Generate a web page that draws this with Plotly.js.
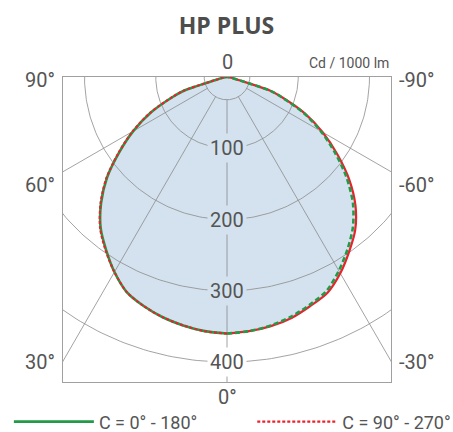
<!DOCTYPE html>
<html>
<head>
<meta charset="utf-8">
<script src="https://cdn.plot.ly/plotly-3.0.1.min.js"></script>
<style>
html,body{margin:0;padding:0;background:#fff;}
#chart{width:453px;height:432px;}
</style>
</head>
<body>
<div id="chart"></div>
<script>
// ---- data (cd / 1000 lm), gamma angle from nadir ----
const GAMMA = [0, 5, 10, 15, 20, 25, 30, 35, 40, 45, 50, 55, 60, 65, 70, 72.5, 75, 80, 85, 90];
// positive side (left of diagram: 0° .. 90°)
const C0_180_POS  = [360, 358, 354, 349, 342, 333, 316, 296, 276, 250, 220, 185, 152, 118, 80, 62, 18, 6, 2, 0];
const C90_270_POS = [360, 358, 354, 349, 342, 333, 316, 297, 277, 251, 221, 186, 153, 119, 81, 63, 18, 6, 2, 0];
// negative side (right of diagram: 0° .. -90°)
const C0_180_NEG  = [360, 358, 354, 348, 340, 331, 314, 295, 275, 250, 219, 185, 152, 118, 80, 62, 18, 6, 2, 0];
const C90_270_NEG = [360, 358, 355, 350, 342, 334, 318, 299, 280, 255, 224, 189, 155, 120, 81, 63, 18, 6, 2, 0];

const RINGS = [32, 100, 200, 300, 400];
const RING_LABELS = [100, 200, 300, 400];
const SPOKES = [-60, -30, 0, 30, 60];
const ANGLE_LABELS_LEFT = ['90°', '60°', '30°'];
const ANGLE_LABELS_RIGHT = ['-90°', '-60°', '-30°'];
const ANGLE_LABEL_Y = [-4, -152, -400];
const SERIES_NAMES = ['C = 0° - 180°', 'C = 90° - 270°'];

// ---- helpers ----
const FONT = 'Roboto, sans-serif';
const TXT = '#555';
const FILL = 'rgb(211,226,238)';
const GRID = '#8c8c8c';
const rad = d => d * Math.PI / 180;
// positive gamma is drawn to the left
function toXY(angles, vals, sign) {
  const x = [], y = [];
  angles.forEach((a, i) => {
    const g = sign * a;
    x.push(-vals[i] * Math.sin(rad(g)));
    y.push(-vals[i] * Math.cos(rad(g)));
  });
  return {x, y};
}
const SPL = {shape: 'spline', smoothing: 0.8};

const traces = [];

// fill (outer envelope)
{
  const negA = GAMMA.slice().reverse(), negV = C90_270_NEG.slice().reverse();
  const r = toXY(negA, negV, -1);
  const l = toXY(GAMMA.slice(1), C90_270_POS.slice(1), 1);
  traces.push({x: r.x.concat(l.x), y: r.y.concat(l.y), mode: 'lines', fill: 'toself',
    fillcolor: FILL, line: Object.assign({width: 0, color: FILL}, SPL), showlegend: false, hoverinfo: 'skip'});
}

// rings
RINGS.forEach(R => {
  const x = [], y = [];
  for (let a = 0; a <= 360; a += 1) { x.push(R * Math.cos(rad(a))); y.push(R * Math.sin(rad(a))); }
  traces.push({x, y, mode: 'lines', line: {color: GRID, width: 0.8}, showlegend: false, hoverinfo: 'skip'});
});
// spokes
SPOKES.forEach(g => {
  const x = [-RINGS[0] * Math.sin(rad(g)), -800 * Math.sin(rad(g))];
  const y = [-RINGS[0] * Math.cos(rad(g)), -800 * Math.cos(rad(g))];
  traces.push({x, y, mode: 'lines', line: {color: GRID, width: 0.8}, showlegend: false, hoverinfo: 'skip'});
});

// negative side: red solid under, green dashed over
{
  const r = toXY(GAMMA, C90_270_NEG, -1);
  traces.push({x: r.x, y: r.y, mode: 'lines', line: Object.assign({color: '#e8232b', width: 2.2}, SPL), showlegend: false, hoverinfo: 'skip'});
  const g = toXY(GAMMA, C0_180_NEG, -1);
  traces.push({x: g.x, y: g.y, mode: 'lines', line: Object.assign({color: '#239a48', width: 2.6, dash: '5px,3px'}, SPL), showlegend: false, hoverinfo: 'skip'});
}
// positive side: green solid under, red dotted over (legend entries)
{
  const g = toXY(GAMMA, C0_180_POS, 1);
  traces.push({x: g.x, y: g.y, mode: 'lines', name: SERIES_NAMES[0], legend: 'legend',
    line: Object.assign({color: '#239a48', width: 2.6}, SPL), hoverinfo: 'skip'});
  const r = toXY(GAMMA, C90_270_POS, 1);
  traces.push({x: r.x, y: r.y, mode: 'lines', name: SERIES_NAMES[1], legend: 'legend2',
    line: Object.assign({color: '#e8232b', width: 2.2, dash: '3px,2px'}, SPL), hoverinfo: 'skip'});
}

const annotations = [];
RING_LABELS.forEach(v => {
  annotations.push({x: 0, y: -v, xref: 'x', yref: 'y', text: String(v), showarrow: false,
    font: {family: FONT, size: 20, color: TXT}, bgcolor: v === 400 ? '#fff' : FILL, borderpad: 2});
});
ANGLE_LABELS_LEFT.forEach((t, i) => {
  annotations.push({x: 0, y: ANGLE_LABEL_Y[i], xref: 'paper', yref: 'y', xanchor: 'right', xshift: -6,
    text: t, showarrow: false, font: {family: FONT, size: 20, color: TXT}});
});
ANGLE_LABELS_RIGHT.forEach((t, i) => {
  annotations.push({x: 1, y: ANGLE_LABEL_Y[i], xref: 'paper', yref: 'y', xanchor: 'left', xshift: 6,
    text: t, showarrow: false, font: {family: FONT, size: 20, color: TXT}});
});
annotations.push({x: 0, y: 1, xref: 'x', yref: 'paper', yanchor: 'bottom', yshift: 1, text: '0',
  showarrow: false, font: {family: FONT, size: 20, color: TXT}});
annotations.push({x: 1, y: 1, xref: 'paper', yref: 'paper', xanchor: 'right', yanchor: 'bottom', yshift: 4,
  text: 'Cd / 1000 lm', showarrow: false, font: {family: FONT, size: 14, color: TXT}});
annotations.push({x: 0, y: 0, xref: 'x', yref: 'paper', yanchor: 'top', yshift: -1, text: '0°',
  showarrow: false, font: {family: FONT, size: 20, color: TXT}});

const legendCommon = {orientation: 'h', yanchor: 'middle', y: -0.131, xanchor: 'left',
  itemwidth: 80, font: {family: FONT, size: 18, color: TXT}, bgcolor: 'rgba(0,0,0,0)'};

const layout = {
  width: 453, height: 432,
  margin: {l: 63, r: 62, t: 77, b: 50, autoexpand: false},
  paper_bgcolor: '#fff', plot_bgcolor: '#fff',
  title: {text: '<b>HP PLUS</b>', x: 0.5, xanchor: 'center', y: 0.94, yanchor: 'middle',
    font: {family: '"Open Sans", sans-serif', size: 23, color: '#4d4d4d'}},
  xaxis: {range: [-230.2, 230.2], showgrid: false, zeroline: false, showticklabels: false, ticks: '',
    showline: true, mirror: true, linecolor: '#a0a0a0', linewidth: 1, fixedrange: true},
  yaxis: {range: [-428, 0], showgrid: false, zeroline: false, showticklabels: false, ticks: '',
    showline: true, mirror: true, linecolor: '#a0a0a0', linewidth: 1, fixedrange: true},
  showlegend: true,
  legend: Object.assign({}, legendCommon, {x: -0.165}),
  legend2: Object.assign({}, legendCommon, {x: 0.577}),
  annotations: annotations,
  hovermode: false
};

Plotly.newPlot('chart', traces, layout, {displayModeBar: false, staticPlot: true});
</script>
</body>
</html>
